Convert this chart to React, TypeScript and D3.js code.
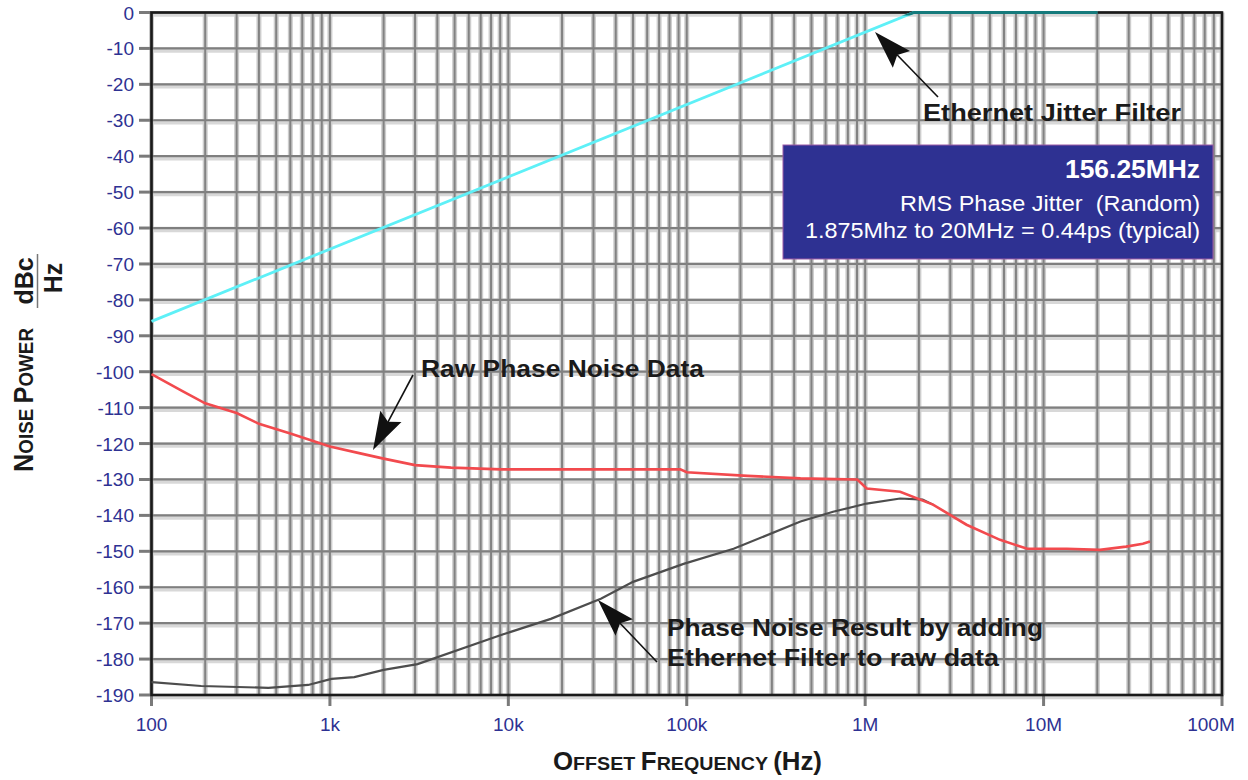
import React from "react";
import * as d3 from "d3";

const FONT = "'Liberation Sans', Arial, Helvetica, sans-serif";

// Ethernet jitter filter (Hz, dB)
const filterFreq = [100, 1875000, 20000000];
const filterDb = [-86, 0, 0];

// Raw phase noise data (Hz, dBc/Hz)
const rawFreq = [100, 150, 200, 300, 400, 600, 1000, 1500, 2000, 3000, 4780, 9100, 21000, 50000, 92000, 100000, 219000, 434000, 903000, 1020000, 1570000, 2400000, 3700000, 5700000, 8100000, 13500000, 20700000, 29000000, 36000000, 39500000];
const rawDb = [-100.7, -105.5, -108.8, -111.5, -114.5, -117.2, -120.8, -122.8, -124.2, -126, -126.7, -127.2, -127.2, -127.2, -127.2, -128, -129, -129.7, -130, -132.5, -133.4, -137, -142.6, -146.8, -149.3, -149.3, -149.6, -148.7, -147.9, -147.3];

// Phase noise result with filter applied
const resFreq = [100, 190, 452, 755, 1020, 1370, 2000, 3100, 9100, 17300, 33000, 50000, 96000, 183000, 434000, 661000, 1020000, 1570000, 2100000, 2400000];
const resDb = [-186.4, -187.5, -188, -187.2, -185.5, -185, -183, -181.4, -173.3, -168.8, -163.2, -158.5, -153.5, -149.3, -141.7, -139, -136.7, -135.3, -135.6, -137];

const yTickValues = [0, -10, -20, -30, -40, -50, -60, -70, -80, -90, -100, -110, -120, -130, -140, -150, -160, -170, -180, -190];
const xTickValues = [1e2, 1e3, 1e4, 1e5, 1e6, 1e7, 1e8];
const xTickLabels = ["100", "1k", "10k", "100k", "1M", "10M", "100M"];

const L = 151.5, R = 1222, T = 12.5, B = 695;

export default function App() {
  const x = d3.scaleLog().domain([1e2, 1e8]).range([L, R]);
  const y = d3.scaleLinear().domain([0, -190]).range([T, B]);
  const line = d3.line<[number, number]>().x(d => x(d[0])).y(d => y(d[1]));

  const filterPts = filterFreq.map((f, i) => [f, filterDb[i]] as [number, number]);
  const rawPts = rawFreq.map((f, i) => [f, rawDb[i]] as [number, number]);
  const resPts = resFreq.map((f, i) => [f, resDb[i]] as [number, number]);

  const minor: number[] = [];
  for (let d = 2; d < 8; d++) for (let k = 1; k <= 9; k++) minor.push(k * Math.pow(10, d));
  minor.push(1e8);

  const arrow = (tail: [number, number], tip: [number, number], key: string) => {
    const dx = tip[0] - tail[0], dy = tip[1] - tail[1];
    const len = Math.hypot(dx, dy);
    const ux = dx / len, uy = dy / len;
    const hl = 38, hw = 12;
    const bx = tip[0] - ux * hl, by = tip[1] - uy * hl;
    const nx = bx + ux * 6, ny = by + uy * 6;
    const p1 = [bx - uy * hw, by + ux * hw];
    const p2 = [bx + uy * hw, by - ux * hw];
    return (
      <g key={key}>
        <line x1={tail[0]} y1={tail[1]} x2={nx} y2={ny} stroke="#111" strokeWidth={1.6} />
        <path d={`M${tip[0]},${tip[1]}L${p1[0]},${p1[1]}L${nx},${ny}L${p2[0]},${p2[1]}Z`} fill="#111" />
      </g>
    );
  };

  return (
    <svg width={1248} height={780} style={{ position: "absolute", left: 0, top: 0, background: "#fff" }} fontFamily={FONT}>
      <defs>
        <clipPath id="topstrip"><rect x={0} y={T - 3} width={1248} height={6} /></clipPath>
      </defs>
      {/* grid halos */}
      {yTickValues.map(v => (
        <line key={"hh" + v} x1={L} x2={R} y1={y(v) + 1.5} y2={y(v) + 1.5} stroke="#d8d8d8" strokeWidth={5.5} />
      ))}
      {minor.map((f, i) => (
        <line key={"vh" + i} x1={x(f)} x2={x(f)} y1={T} y2={B} stroke="#cdcdcd" strokeWidth={5} />
      ))}
      {/* grid lines */}
      {yTickValues.map(v => (
        <line key={"h" + v} x1={L} x2={R} y1={y(v)} y2={y(v)} stroke="#7f7f7f" strokeWidth={2.2} />
      ))}
      {minor.map((f, i) => (
        <line key={"v" + i} x1={x(f)} x2={x(f)} y1={T} y2={B} stroke="#828282" strokeWidth={2} />
      ))}
      {/* ticks */}
      {yTickValues.map(v => (
        <line key={"yt" + v} x1={139} x2={L} y1={y(v)} y2={y(v)} stroke="#7a7a7a" strokeWidth={3} />
      ))}
      {xTickValues.map(v => (
        <line key={"xt" + v} x1={x(v)} x2={x(v)} y1={B} y2={B + 11} stroke="#7a7a7a" strokeWidth={3} />
      ))}
      {/* frame */}
      <rect x={L} y={T} width={R - L} height={B - T} fill="none" stroke="#1a1a1a" strokeWidth={2.6} />
      {/* tick labels */}
      {yTickValues.map(v => (
        <text key={"yl" + v} x={134} y={y(v) + 7} textAnchor="end" fontSize={19} fill="#2e3192">{v}</text>
      ))}
      {xTickValues.map((v, i) => (
        <text key={"xl" + v} x={Math.min(x(v), 1211)} y={731} textAnchor="middle" fontSize={19} fill="#2e3192">{xTickLabels[i]}</text>
      ))}
      {/* series */}
      <path d={line(filterPts) || ""} fill="none" stroke="#5ef0f7" strokeWidth={2.8} />
      <path d={line(filterPts) || ""} fill="none" stroke="#157a7c" strokeWidth={2.8} clipPath="url(#topstrip)" />
      <path d={line(resPts) || ""} fill="none" stroke="#4d4d4d" strokeWidth={2.2} />
      <path d={line(rawPts) || ""} fill="none" stroke="#f24a4e" strokeWidth={2.6} />

      {/* annotations */}
      {arrow([938, 97], [875, 32], "a1")}
      {arrow([413, 375], [373, 450], "a2")}
      {arrow([657, 662], [598, 600], "a3")}
      <g fontWeight="bold" fontSize={24} fill="#1a1a1a">
        <text x={923} y={121} textLength={258} lengthAdjust="spacingAndGlyphs">Ethernet Jitter Filter</text>
        <text x={421} y={377} textLength={283} lengthAdjust="spacingAndGlyphs">Raw Phase Noise Data</text>
        <text x={667} y={636} textLength={376} lengthAdjust="spacingAndGlyphs">Phase Noise Result by adding</text>
        <text x={667} y={666} textLength={332} lengthAdjust="spacingAndGlyphs">Ethernet Filter to raw data</text>
      </g>

      {/* info box */}
      <rect x={783} y={145} width={430} height={114} fill="#2e3192" stroke="#9b5aa5" strokeWidth={1} />
      <g fill="#fff" textAnchor="end">
        <text x={1200} y={178} fontSize={26} fontWeight="bold" textLength={135} lengthAdjust="spacingAndGlyphs">156.25MHz</text>
        <text x={1200} y={211} fontSize={22} textLength={300} lengthAdjust="spacingAndGlyphs" style={{ whiteSpace: "pre" }}>{"RMS Phase Jitter  (Random)"}</text>
        <text x={1200} y={238} fontSize={22} textLength={395} lengthAdjust="spacingAndGlyphs">1.875Mhz to 20MHz = 0.44ps (typical)</text>
      </g>

      {/* axis titles */}
      <text transform="translate(33,472) rotate(-90)" fontWeight="bold" fill="#1a1a1a" textLength={144} lengthAdjust="spacingAndGlyphs">
        <tspan fontSize={27}>N</tspan><tspan fontSize={20}>OISE </tspan><tspan fontSize={27}>P</tspan><tspan fontSize={20}>OWER</tspan>
      </text>
      <text transform="translate(33,281) rotate(-90)" fontWeight="bold" fontSize={25} fill="#1a1a1a" textAnchor="middle">dBc</text>
      <line x1={37.5} x2={37.5} y1={254} y2={308} stroke="#777" strokeWidth={1.5} />
      <text transform="translate(62,278) rotate(-90)" fontWeight="bold" fontSize={25} fill="#1a1a1a" textAnchor="middle">Hz</text>
      <text x={553} y={770} fontWeight="bold" fill="#1a1a1a" textLength={269} lengthAdjust="spacingAndGlyphs">
        <tspan fontSize={25}>O</tspan><tspan fontSize={19}>FFSET </tspan><tspan fontSize={25}>F</tspan><tspan fontSize={19}>REQUENCY </tspan><tspan fontSize={25}>(Hz)</tspan>
      </text>
    </svg>
  );
}
